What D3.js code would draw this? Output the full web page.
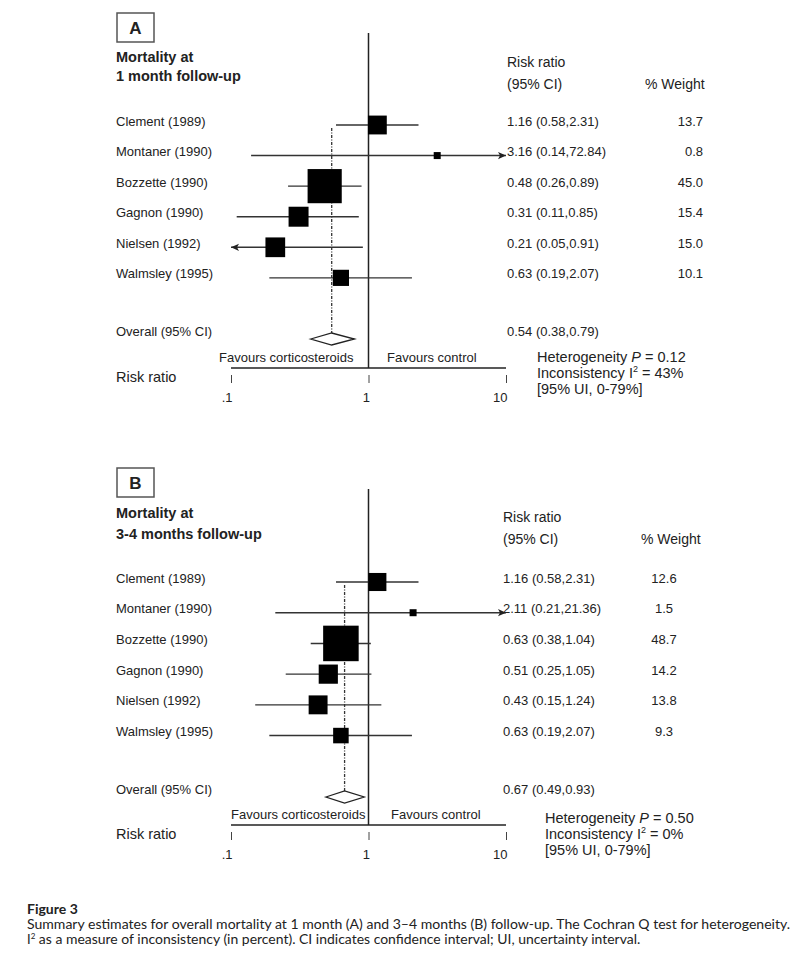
<!DOCTYPE html>
<html>
<head>
<meta charset="utf-8">
<script src="https://cdn.jsdelivr.net/npm/d3@7"></script>
<style>
  body { margin: 0; background: #fff; }
  text { font-family: "Liberation Sans", Arial, sans-serif; fill: #222; }
  .caption { font-family: Lato, "Open Sans", sans-serif; }
</style>
</head>
<body>
<script>
const WIDTH = 800;
const HEIGHT = 963;

// data
const STUDIES = ["Clement (1989)", "Montaner (1990)", "Bozzette (1990)",
                 "Gagnon (1990)", "Nielsen (1992)", "Walmsley (1995)"];

const RR_A = [1.16, 3.16, 0.48, 0.31, 0.21, 0.63];
const LO_A = [0.58, 0.14, 0.26, 0.11, 0.05, 0.19];
const HI_A = [2.31, 72.84, 0.89, 0.85, 0.91, 2.07];
const WEIGHT_A = ["13.7", "0.8", "45.0", "15.4", "15.0", "10.1"];
const OVERALL_A = [0.54, 0.38, 0.79];

const RR_B = [1.16, 2.11, 0.63, 0.51, 0.43, 0.63];
const LO_B = [0.58, 0.21, 0.38, 0.25, 0.15, 0.19];
const HI_B = [2.31, 21.36, 1.04, 1.05, 1.24, 2.07];
const WEIGHT_B = ["12.6", "1.5", "48.7", "14.2", "13.8", "9.3"];
const OVERALL_B = [0.67, 0.49, 0.93];

const TICKS = [0.1, 1, 10];
const TICK_LABELS = [".1", "1", "10"];

const HET_P = ["0.12", "0.50"];
const HET_I2 = ["43%", "0%"];
const HET_UI = ["0-79%", "0-79%"];

// log scale shared by both panels
const X_SCALE = d3.scaleLog().domain([0.1, 10]).range([231, 506]);
// box side from % weight (area ~ weight)
const SIZE_SCALE = d3.scaleSqrt().domain([0, 50]).range([0, 36]);

const fmt = d3.format(".2f");
const ciText = (r, l, h) => fmt(r) + " (" + fmt(l) + "," + fmt(h) + ")";

const SVG = d3.select("body").append("svg")
  .attr("width", WIDTH)
  .attr("height", HEIGHT);

// arrow head for clipped intervals
SVG.append("defs").append("marker")
  .attr("id", "arrow")
  .attr("viewBox", "0 0 10 10")
  .attr("refX", 10).attr("refY", 5)
  .attr("markerWidth", 10).attr("markerHeight", 8)
  .attr("markerUnits", "userSpaceOnUse")
  .attr("orient", "auto-start-reverse")
  .append("path")
    .attr("d", "M0,0.5 L10,5 L0,9.5 L2.5,5 Z")
    .attr("fill", "#222");

function drawPanel(p) {
  const g = SVG.append("g");
  const rows = STUDIES.map((s, i) => ({
    study: s, rr: p.rr[i], lo: p.lo[i], hi: p.hi[i], w: p.weight[i]
  }));

  const Y_SCALE = d3.scalePoint()
    .domain([...STUDIES, "gap", "overall"])
    .range([p.firstRow, p.overallRow]);

  // panel letter box
  g.append("rect")
    .attr("x", 117).attr("y", p.boxY)
    .attr("width", 37).attr("height", 29)
    .attr("fill", "none").attr("stroke", "#555").attr("stroke-width", 1.5);
  g.append("text")
    .attr("x", 135.5).attr("y", p.boxY + 21)
    .attr("text-anchor", "middle")
    .attr("font-size", 17).attr("font-weight", "bold")
    .text(p.letter);

  // title
  g.append("text").attr("x", 116).attr("y", p.titleY)
    .attr("font-size", 14.5).attr("font-weight", "bold").text("Mortality at");
  g.append("text").attr("x", 116).attr("y", p.titleY + p.titleGap)
    .attr("font-size", 14.5).attr("font-weight", "bold").text(p.subtitle);

  // column headers
  g.append("text").attr("x", p.valueX).attr("y", p.headY)
    .attr("font-size", 14).text("Risk ratio");
  g.append("text").attr("x", p.valueX).attr("y", p.headY + 22)
    .attr("font-size", 14).text("(95% CI)");
  g.append("text").attr("x", p.weightHeadX).attr("y", p.headY + 22)
    .attr("font-size", 14).text("% Weight");

  // line of no effect
  g.append("line")
    .attr("x1", X_SCALE(1)).attr("x2", X_SCALE(1))
    .attr("y1", p.lineTop).attr("y2", p.axisY)
    .attr("stroke", "#222").attr("stroke-width", 1.5);

  // dashed overall line
  g.append("line")
    .attr("x1", X_SCALE(p.overall[0])).attr("x2", X_SCALE(p.overall[0]))
    .attr("y1", Y_SCALE(STUDIES[0]) + 3).attr("y2", p.overallRow - 6)
    .attr("stroke", "#333").attr("stroke-width", 1.3)
    .attr("stroke-dasharray", "3,1.5,1,1.5");

  // confidence intervals
  g.selectAll(".ci")
    .data(rows)
    .enter()
    .append("line")
      .attr("class", "ci")
      .attr("x1", (d) => X_SCALE(Math.max(d.lo, 0.1)))
      .attr("x2", (d) => X_SCALE(Math.min(d.hi, 10)))
      .attr("y1", (d) => Y_SCALE(d.study))
      .attr("y2", (d) => Y_SCALE(d.study))
      .attr("stroke", "#333").attr("stroke-width", 1.4)
      .attr("marker-start", (d) => d.lo < 0.1 ? "url(#arrow)" : null)
      .attr("marker-end", (d) => d.hi > 10 ? "url(#arrow)" : null);

  // weighted boxes
  g.selectAll(".box")
    .data(rows)
    .enter()
    .append("rect")
      .attr("class", "box")
      .attr("x", (d) => X_SCALE(d.rr) - Math.max(7, SIZE_SCALE(+d.w)) / 2)
      .attr("y", (d) => Y_SCALE(d.study) - Math.max(7, SIZE_SCALE(+d.w)) / 2)
      .attr("width", (d) => Math.max(7, SIZE_SCALE(+d.w)))
      .attr("height", (d) => Math.max(7, SIZE_SCALE(+d.w)))
      .attr("fill", "#000");

  // study labels, estimates and weights
  g.selectAll(".lab")
    .data(rows)
    .enter()
    .append("text")
      .attr("x", 116)
      .attr("y", (d) => Y_SCALE(d.study) + 0.5)
      .attr("font-size", 13)
      .text((d) => d.study);

  g.selectAll(".val")
    .data(rows)
    .enter()
    .append("text")
      .attr("x", p.valueX)
      .attr("y", (d) => Y_SCALE(d.study) + 0.5)
      .attr("font-size", 13)
      .text((d) => ciText(d.rr, d.lo, d.hi));

  g.selectAll(".wt")
    .data(rows)
    .enter()
    .append("text")
      .attr("x", p.weightX)
      .attr("y", (d) => Y_SCALE(d.study) + 0.5)
      .attr("text-anchor", p.weightAnchor)
      .attr("font-size", 13)
      .text((d) => d.w);

  // overall diamond
  const oy = p.overallRow;
  const o = p.overall;
  g.append("path")
    .attr("d", "M" + X_SCALE(o[1]) + "," + oy +
               "L" + X_SCALE(o[0]) + "," + (oy - 6) +
               "L" + X_SCALE(o[2]) + "," + oy +
               "L" + X_SCALE(o[0]) + "," + (oy + 6) + "Z")
    .attr("fill", "#fff").attr("stroke", "#222").attr("stroke-width", 1.3);
  g.append("text").attr("x", 116).attr("y", oy - 3)
    .attr("font-size", 13).text("Overall (95% CI)");
  g.append("text").attr("x", p.valueX).attr("y", oy - 3)
    .attr("font-size", 13).text(ciText(o[0], o[1], o[2]));

  // axis
  g.append("line")
    .attr("x1", X_SCALE.range()[0]).attr("x2", X_SCALE.range()[1])
    .attr("y1", p.axisY).attr("y2", p.axisY)
    .attr("stroke", "#222").attr("stroke-width", 1.4);

  const ax = g.append("g")
    .attr("transform", "translate(0," + (p.axisY + 7) + ")")
    .call(d3.axisBottom(X_SCALE)
      .tickValues(TICKS)
      .tickSize(8)
      .tickFormat((d, i) => TICK_LABELS[i]));
  ax.select(".domain").remove();
  ax.selectAll(".tick line").attr("stroke", "#444");
  ax.selectAll(".tick text")
    .attr("y", 18).attr("dx", 1)
    .attr("text-anchor", "end")
    .attr("font-family", "Liberation Sans, Arial, sans-serif")
    .attr("font-size", 13).attr("fill", "#222");

  g.append("text").attr("x", p.favLeftX).attr("y", p.axisY - 6)
    .attr("font-size", 13).text("Favours corticosteroids");
  g.append("text").attr("x", p.favRightX).attr("y", p.axisY - 6)
    .attr("font-size", 13).text("Favours control");
  g.append("text").attr("x", 116).attr("y", p.axisY + 14)
    .attr("font-size", 14.5).text("Risk ratio");

  // heterogeneity statistics
  const h1 = g.append("text").attr("x", p.hetX).attr("y", p.hetY)
    .attr("font-size", 14.5);
  h1.append("tspan").text("Heterogeneity ");
  h1.append("tspan").attr("font-style", "italic").text("P");
  h1.append("tspan").text(" = " + HET_P[p.idx]);

  const h2 = g.append("text").attr("x", p.hetX).attr("y", p.hetY + 16)
    .attr("font-size", 14.5);
  h2.append("tspan").text("Inconsistency I");
  h2.append("tspan").attr("font-size", 9).attr("dy", -6).text("2");
  h2.append("tspan").attr("dy", 6).text(" = " + HET_I2[p.idx]);

  g.append("text").attr("x", p.hetX).attr("y", p.hetY + 32)
    .attr("font-size", 14.5).text("[95% UI, " + HET_UI[p.idx] + "]");
}

drawPanel({
  idx: 0, letter: "A", subtitle: "1 month follow-up",
  rr: RR_A, lo: LO_A, hi: HI_A, weight: WEIGHT_A, overall: OVERALL_A,
  boxY: 13, titleY: 62, titleGap: 19, headY: 67,
  valueX: 507, weightHeadX: 645, weightX: 703, weightAnchor: "end",
  lineTop: 33, firstRow: 125, overallRow: 339, axisY: 368,
  favLeftX: 219, favRightX: 387, hetX: 537, hetY: 362
});

drawPanel({
  idx: 1, letter: "B", subtitle: "3-4 months follow-up",
  rr: RR_B, lo: LO_B, hi: HI_B, weight: WEIGHT_B, overall: OVERALL_B,
  boxY: 468, titleY: 518, titleGap: 21, headY: 522,
  valueX: 503, weightHeadX: 641, weightX: 664, weightAnchor: "middle",
  lineTop: 489, firstRow: 582, overallRow: 797, axisY: 825,
  favLeftX: 231, favRightX: 391, hetX: 545, hetY: 823
});

// caption
SVG.append("text").attr("class", "caption")
  .attr("x", 27).attr("y", 914)
  .attr("font-size", 14).attr("font-weight", "bold")
  .text("Figure 3");
SVG.append("text").attr("class", "caption")
  .attr("x", 27).attr("y", 929)
  .attr("font-size", 13)
  .attr("textLength", 763).attr("lengthAdjust", "spacingAndGlyphs")
  .text("Summary estimates for overall mortality at 1 month (A) and 3\u20134 months (B) follow-up. The Cochran Q test for heterogeneity.");
const cap2 = SVG.append("text").attr("class", "caption")
  .attr("x", 27).attr("y", 944)
  .attr("font-size", 13);
cap2.append("tspan").text("I");
cap2.append("tspan").attr("font-size", 8).attr("dy", -5).text("2");
cap2.append("tspan").attr("dy", 5)
  .attr("textLength", 605).attr("lengthAdjust", "spacingAndGlyphs")
  .text(" as a measure of inconsistency (in percent). CI indicates confidence interval; UI, uncertainty interval.");
</script>
</body>
</html>
